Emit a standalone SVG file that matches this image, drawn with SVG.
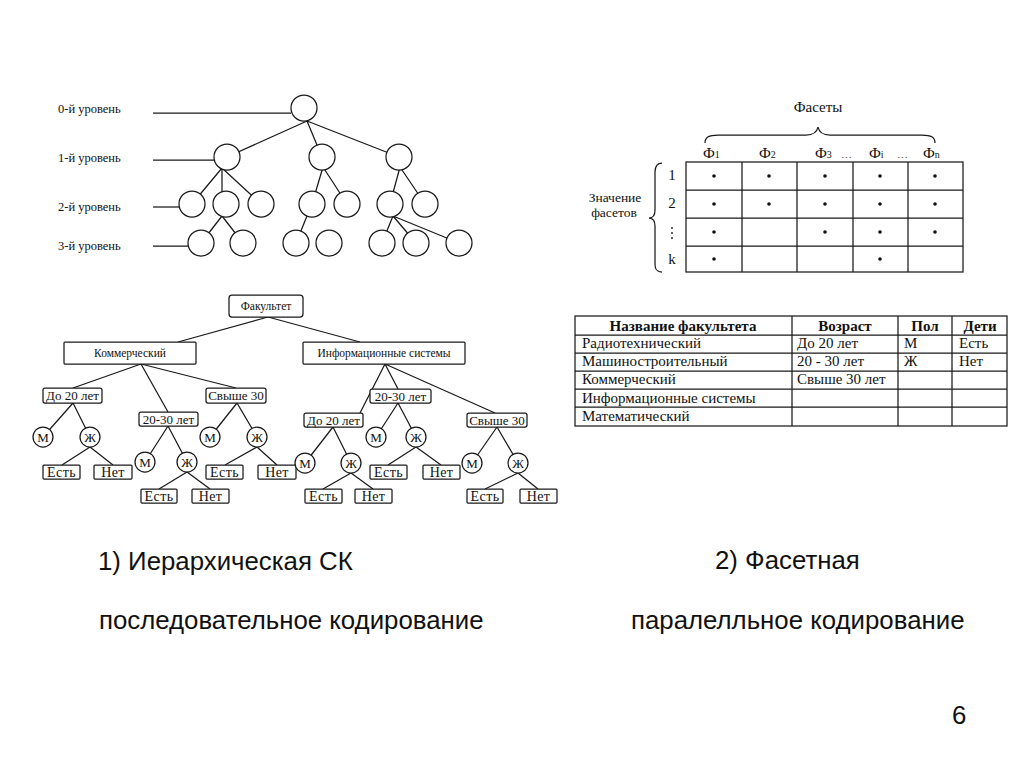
<svg xmlns="http://www.w3.org/2000/svg" width="1024" height="767" viewBox="0 0 1024 767">
<style>
.ln{stroke:#1a1a1a;stroke-width:1.25;fill:none}
.c{fill:#fff;stroke:#1a1a1a;stroke-width:1.25}
.b{fill:#fff;stroke:#1a1a1a;stroke-width:1.25}
.s{font-family:"Liberation Serif",serif;fill:#111}
.lv{font-size:12.5px}
.t{font-size:13px;text-anchor:middle}
.l{font-size:14px;letter-spacing:0.4px}
.g{font-size:13px}
.big{font-family:"Liberation Sans",Arial,sans-serif;font-size:25.8px;fill:#111}
.tb{font-size:15px}
.dot{fill:#111}
</style>
<rect width="1024" height="767" fill="#fff"/>

<!-- Top hierarchical tree -->
<g id="levels">
<text class="s lv" x="58" y="113">0-й уровень</text>
<text class="s lv" x="58" y="162">1-й уровень</text>
<text class="s lv" x="58" y="211">2-й уровень</text>
<text class="s lv" x="58" y="250">3-й уровень</text>
</g>
<g id="top-connectors">
<line class="ln" x1="153" y1="113" x2="291" y2="113"/>
<line class="ln" x1="153" y1="160" x2="214" y2="160"/>
<line class="ln" x1="153" y1="207" x2="179" y2="207"/>
<line class="ln" x1="153" y1="246" x2="188" y2="246"/>
<path class="ln" d="M307,121 L227,157 M307,121 L322,157 M307,121 L399,157"/>
<path class="ln" d="M222,168 L192,204 M222,168 L222,204 M222,168 L261,204"/>
<path class="ln" d="M323,167 L312,204 M323,167 L347,204"/>
<path class="ln" d="M400,167 L390,204 M400,167 L425,204"/>
<path class="ln" d="M222,216 L201,243 M222,216 L243,243"/>
<path class="ln" d="M307,216 L296,243"/>
<path class="ln" d="M393,216 L382,243 M393,216 L416,243 M393,216 L459,243"/>
</g>
<g id="top-nodes">
<circle class="c" cx="304" cy="108" r="13"/>
<circle class="c" cx="227" cy="157" r="13"/>
<circle class="c" cx="322" cy="157" r="13"/>
<circle class="c" cx="399" cy="157" r="13"/>
<circle class="c" cx="192" cy="204" r="13"/>
<circle class="c" cx="226" cy="204" r="13"/>
<circle class="c" cx="261" cy="204" r="13"/>
<circle class="c" cx="312" cy="204" r="13"/>
<circle class="c" cx="347" cy="204" r="13"/>
<circle class="c" cx="390" cy="204" r="13"/>
<circle class="c" cx="425" cy="204" r="13"/>
<circle class="c" cx="201" cy="243" r="13"/>
<circle class="c" cx="243" cy="243" r="13"/>
<circle class="c" cx="296" cy="243" r="13"/>
<circle class="c" cx="329" cy="243" r="13"/>
<circle class="c" cx="382" cy="243" r="13"/>
<circle class="c" cx="416" cy="243" r="13"/>
<circle class="c" cx="459" cy="243" r="13"/>
</g>

<!-- Facet table -->
<g id="facets">
<text class="s" x="818" y="112" font-size="15" text-anchor="middle">Фасеты</text>
<path class="ln" d="M705,143 C705,137 709,135 718,135 L806,135 C813,135 817,132 818,127 C819,132 823,135 830,135 L922,135 C931,135 935,137 935,143"/>
<g class="s" font-size="15">
<text x="703" y="158">Ф<tspan font-size="10">1</tspan></text>
<text x="759" y="158">Ф<tspan font-size="10">2</tspan></text>
<text x="815" y="158">Ф<tspan font-size="10">3</tspan></text>
<text x="841" y="158" font-size="11" fill="#555">…</text>
<text x="869" y="158">Ф<tspan font-size="10">i</tspan></text>
<text x="897" y="158" font-size="11" fill="#555">…</text>
<text x="923" y="158">Ф<tspan font-size="10">n</tspan></text>
</g>
<rect class="ln" x="686" y="162" width="277" height="110"/>
<path class="ln" d="M686,190 H963 M686,218 H963 M686,246 H963 M742,162 V272 M797,162 V272 M853,162 V272 M908,162 V272"/>
<g class="dot">
<circle cx="714" cy="176" r="1.8"/><circle cx="769" cy="176" r="1.8"/><circle cx="825" cy="176" r="1.8"/><circle cx="880" cy="176" r="1.8"/><circle cx="935" cy="176" r="1.8"/>
<circle cx="714" cy="204" r="1.8"/><circle cx="769" cy="204" r="1.8"/><circle cx="825" cy="204" r="1.8"/><circle cx="880" cy="204" r="1.8"/><circle cx="935" cy="204" r="1.8"/>
<circle cx="714" cy="232" r="1.8"/><circle cx="825" cy="232" r="1.8"/><circle cx="880" cy="232" r="1.8"/><circle cx="935" cy="232" r="1.8"/>
<circle cx="714" cy="259" r="1.8"/><circle cx="880" cy="259" r="1.8"/>
</g>
<g class="s" font-size="15" text-anchor="middle">
<text x="672" y="180">1</text>
<text x="672" y="208">2</text>
<text x="672" y="264">k</text>
</g>
<g class="dot"><circle cx="672" cy="228" r="0.9"/><circle cx="672" cy="233" r="0.9"/><circle cx="672" cy="238" r="0.9"/></g>
<path class="ln" d="M662,163 C657,163 655,166 655,172 L655,210 C655,215 653,218 649,218 C653,218 655,221 655,226 L655,264 C655,270 657,272 662,272"/>
<text class="s" x="615" y="202" font-size="13.5" text-anchor="middle">Значение</text>
<text class="s" x="614" y="217" font-size="13.5" text-anchor="middle">фасетов</text>
</g>

<!-- Lower tree connectors -->
<g id="connectors">
<path class="ln" d="M268,317 L178,342 M268,317 L360,342"/>
<path class="ln" d="M141,364 L73,388 M141,364 L236,388 M141,364 L168,412"/>
<path class="ln" d="M73,403 L43,437 M73,403 L90,437"/>
<path class="ln" d="M90,447 L62,465 M90,447 L113,465"/>
<path class="ln" d="M168,426 L145,462 M168,426 L187,462"/>
<path class="ln" d="M187,472 L159,489 M187,472 L210,489"/>
<path class="ln" d="M237,403 L210,437 M237,403 L257,437"/>
<path class="ln" d="M257,447 L225,465 M257,447 L277,465"/>
<path class="ln" d="M385,364 L360,413 M385,364 L398,389 M385,364 L495,413"/>
<path class="ln" d="M398,403 L376,437 M398,403 L416,437"/>
<path class="ln" d="M416,447 L388,465 M416,447 L441,465"/>
<path class="ln" d="M333,427 L305,463 M333,427 L351,463"/>
<path class="ln" d="M351,473 L323,489 M351,473 L373,489"/>
<path class="ln" d="M497,427 L472,463 M497,427 L518,463"/>
<path class="ln" d="M518,473 L485,489 M518,473 L538,489"/>
</g>

<!-- Lower tree nodes -->
<g id="n-fak"><rect class="b" x="229" y="295" width="74" height="22" rx="3"/><text class="s" x="266" y="310" font-size="11.5" text-anchor="middle">Факультет</text></g>
<g id="n-kom"><rect class="b" x="64" y="342" width="132" height="22" rx="1"/><text class="s" x="130" y="357" font-size="11.5" text-anchor="middle">Коммерческий</text></g>
<g id="n-inf"><rect class="b" x="303" y="342" width="162" height="22" rx="1"/><text class="s" x="384" y="357" font-size="11.5" text-anchor="middle">Информационные системы</text></g>

<g id="n-k-do20"><rect class="b" x="43" y="388" width="59" height="15" rx="2"/><text class="s t" x="72.5" y="400">До 20 лет</text></g>
<g id="n-k-2030"><rect class="b" x="139" y="412" width="59" height="14" rx="2"/><text class="s t" x="168.5" y="423.5">20-30 лет</text></g>
<g id="n-k-30"><rect class="b" x="206" y="388" width="60" height="15" rx="2"/><text class="s t" x="236" y="400">Свыше 30</text></g>

<g id="n-k1-m"><circle class="c" cx="43" cy="437" r="10"/><text class="s t g" x="43" y="441.5">М</text></g>
<g id="n-k1-z"><circle class="c" cx="90" cy="437" r="10"/><text class="s t g" x="90" y="441.5">Ж</text></g>
<g id="n-k1-e"><rect class="b" x="43" y="465" width="37" height="14" rx="1"/><text class="s t l" x="61.5" y="476.5">Есть</text></g>
<g id="n-k1-n"><rect class="b" x="94" y="465" width="38" height="14" rx="1"/><text class="s t l" x="113" y="476.5">Нет</text></g>

<g id="n-k2-m"><circle class="c" cx="145" cy="462" r="10"/><text class="s t g" x="145" y="466.5">М</text></g>
<g id="n-k2-z"><circle class="c" cx="187" cy="462" r="10"/><text class="s t g" x="187" y="466.5">Ж</text></g>
<g id="n-k2-e"><rect class="b" x="141" y="489" width="36" height="14" rx="1"/><text class="s t l" x="159" y="500.5">Есть</text></g>
<g id="n-k2-n"><rect class="b" x="192" y="489" width="37" height="14" rx="1"/><text class="s t l" x="210.5" y="500.5">Нет</text></g>

<g id="n-k3-m"><circle class="c" cx="210" cy="437" r="10"/><text class="s t g" x="210" y="441.5">М</text></g>
<g id="n-k3-z"><circle class="c" cx="257" cy="437" r="10"/><text class="s t g" x="257" y="441.5">Ж</text></g>
<g id="n-k3-e"><rect class="b" x="206" y="465" width="37" height="14" rx="1"/><text class="s t l" x="224.5" y="476.5">Есть</text></g>
<g id="n-k3-n"><rect class="b" x="258" y="465" width="38" height="14" rx="1"/><text class="s t l" x="277" y="476.5">Нет</text></g>

<g id="n-i-do20"><rect class="b" x="304" y="413" width="59" height="14" rx="2"/><text class="s t" x="333.5" y="424.5">До 20 лет</text></g>
<g id="n-i-2030"><rect class="b" x="370" y="389" width="61" height="14" rx="2"/><text class="s t" x="400.5" y="400.5">20-30 лет</text></g>
<g id="n-i-30"><rect class="b" x="467" y="413" width="60" height="14" rx="2"/><text class="s t" x="497" y="424.5">Свыше 30</text></g>

<g id="n-i2-m"><circle class="c" cx="376" cy="437" r="10"/><text class="s t g" x="376" y="441.5">М</text></g>
<g id="n-i2-z"><circle class="c" cx="416" cy="437" r="10"/><text class="s t g" x="416" y="441.5">Ж</text></g>
<g id="n-i2-e"><rect class="b" x="370" y="465" width="37" height="14" rx="1"/><text class="s t l" x="388.5" y="476.5">Есть</text></g>
<g id="n-i2-n"><rect class="b" x="423" y="465" width="37" height="14" rx="1"/><text class="s t l" x="441.5" y="476.5">Нет</text></g>

<g id="n-i1-m"><circle class="c" cx="305" cy="463" r="10"/><text class="s t g" x="305" y="467.5">М</text></g>
<g id="n-i1-z"><circle class="c" cx="351" cy="463" r="10"/><text class="s t g" x="351" y="467.5">Ж</text></g>
<g id="n-i1-e"><rect class="b" x="305" y="489" width="37" height="14" rx="1"/><text class="s t l" x="323.5" y="500.5">Есть</text></g>
<g id="n-i1-n"><rect class="b" x="355" y="489" width="37" height="14" rx="1"/><text class="s t l" x="373.5" y="500.5">Нет</text></g>

<g id="n-i3-m"><circle class="c" cx="472" cy="463" r="10"/><text class="s t g" x="472" y="467.5">М</text></g>
<g id="n-i3-z"><circle class="c" cx="518" cy="463" r="10"/><text class="s t g" x="518" y="467.5">Ж</text></g>
<g id="n-i3-e"><rect class="b" x="467" y="489" width="36" height="14" rx="1"/><text class="s t l" x="485" y="500.5">Есть</text></g>
<g id="n-i3-n"><rect class="b" x="520" y="489" width="37" height="14" rx="1"/><text class="s t l" x="538.5" y="500.5">Нет</text></g>

<!-- Faculty table -->
<g id="table">
<rect class="ln" x="575" y="316" width="432" height="110"/>
<path class="ln" d="M575,335 H1007 M575,353 H1007 M575,371 H1007 M575,389 H1007 M575,407 H1007 M792,316 V426 M898,316 V426 M952,316 V426"/>
<g class="s tb" font-weight="bold" text-anchor="middle">
<text x="683" y="331">Название факультета</text>
<text x="845" y="331">Возраст</text>
<text x="925" y="331">Пол</text>
<text x="980" y="331">Дети</text>
</g>
<g class="s tb">
<text x="582" y="348">Радиотехнический</text>
<text x="582" y="366">Машиностроительный</text>
<text x="582" y="384">Коммерческий</text>
<text x="582" y="403">Информационные системы</text>
<text x="582" y="421">Математический</text>
<text x="797" y="348">До 20 лет</text>
<text x="797" y="366">20 - 30 лет</text>
<text x="797" y="384">Свыше 30 лет</text>
<text x="904" y="348">М</text>
<text x="904" y="366">Ж</text>
<text x="959" y="348">Есть</text>
<text x="959" y="366">Нет</text>
</g>
</g>

<!-- Captions -->
<g id="captions">
<text class="big" x="98" y="570">1) Иерархическая СК</text>
<text class="big" x="715" y="569">2) Фасетная</text>
<text class="big" x="99" y="629">последовательное кодирование</text>
<text class="big" x="631" y="629">паралелльное кодирование</text>
<text class="big" x="952" y="724" font-size="22">6</text>
</g>
</svg>
